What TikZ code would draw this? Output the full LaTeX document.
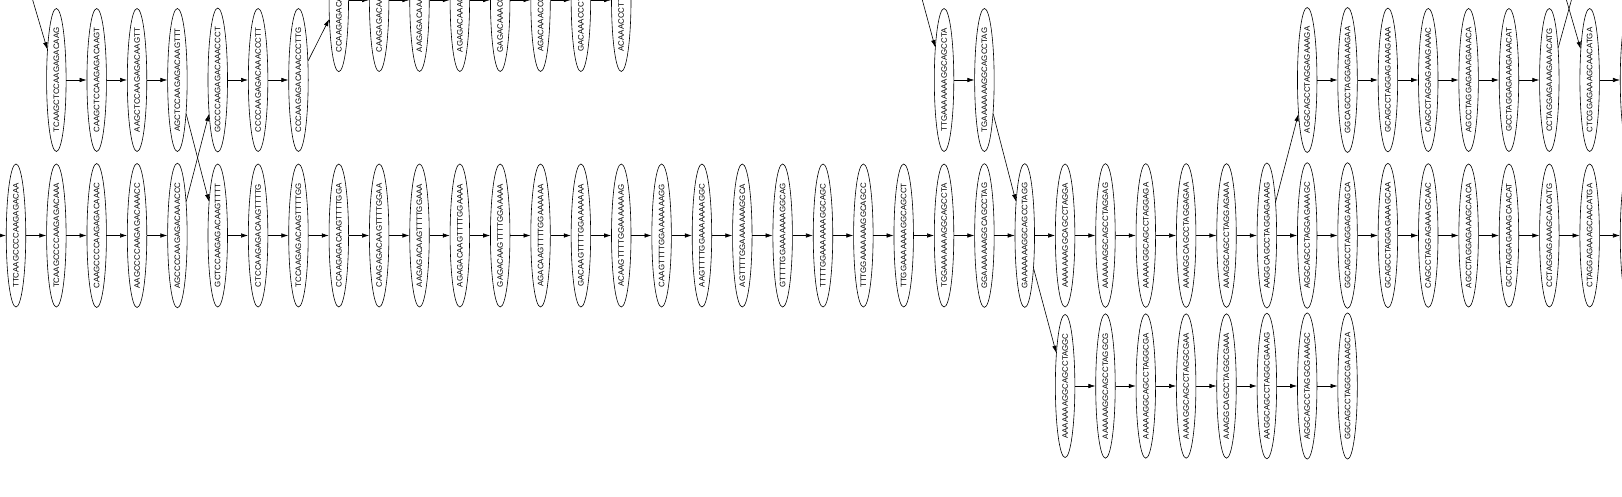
\documentclass[tikz,border=0pt]{standalone}
\usepackage{fontspec}
\setmainfont{Liberation Sans}
\usetikzlibrary{shapes.geometric,arrows.meta}

\begin{document}
\begin{tikzpicture}[x=1pt,y=-1pt,
    kmer/.style={draw,ellipse,rotate=90,line width=0.6pt,
        minimum width=143pt,minimum height=19.5pt,
        inner xsep=-2pt,inner ysep=0pt,
        font=\fontsize{7.9}{9}\selectfont},
    link/.style={line width=0.6pt,-{Latex[length=7pt,width=4.5pt]}}]
    \useasboundingbox (0,0) rectangle (1622,497);
    \clip (0,0) rectangle (1622,497);

    % middle row
    \foreach \s [count=\i from 0] in {
        TTCAAGCCCCAAGAGACAA,TCAAGCCCCAAGAGACAAA,CAAGCCCCAAGAGACAAAC,
        AAGCCCCAAGAGACAAACC,AGCCCCAAGAGACAAACCC,GCTCCAAGAGACAAGTTTT,
        CTCCAAGAGACAAGTTTTG,TCCAAGAGACAAGTTTTGG,CCAAGAGACAAGTTTTGGA,
        CAAGAGACAAGTTTTGGAA,AAGAGACAAGTTTTGGAAA,AGAGACAAGTTTTGGAAAA,
        GAGACAAGTTTTGGAAAAA,AGACAAGTTTTGGAAAAAA,GACAAGTTTTGGAAAAAAA,
        ACAAGTTTTGGAAAAAAAG,CAAGTTTTGGAAAAAAAGG,AAGTTTTGGAAAAAAAGGC,
        AGTTTTGGAAAAAAAGGCA,GTTTTGGAAAAAAAGGCAG,TTTTGGAAAAAAAGGCAGC,
        TTTGGAAAAAAAGGCAGCC,TTGGAAAAAAAGGCAGCCT,TGGAAAAAAAGGCAGCCTA,
        GGAAAAAAAGGCAGCCTAG,GAAAAAAAGGCAGCCTAGG,AAAAAAAGGCAGCCTAGGA,
        AAAAAAGGCAGCCTAGGAG,AAAAAGGCAGCCTAGGAGA,AAAAGGCAGCCTAGGAGAA,
        AAAGGCAGCCTAGGAGAAA,AAGGCAGCCTAGGAGAAAG,AGGCAGCCTAGGAGAAAGC,
        GGCAGCCTAGGAGAAAGCA,GCAGCCTAGGAGAAAGCAA,CAGCCTAGGAGAAAGCAAC,
        AGCCTAGGAGAAAGCAACA,GCCTAGGAGAAAGCAACAT,CCTAGGAGAAAGCAACATG,
        CTAGGAGAAAGCAACATGA}
        \node[kmer] (m\i) at ({16+40.35*\i},235.5) {\s};
    \node[kmer] (m40) at ({16+40.35*40},235.5) {};

    % upper row
    \foreach \i/\s in {
        1/TCAAGCTCCAAGAGACAAG,2/CAAGCTCCAAGAGACAAGT,3/AAGCTCCAAGAGACAAGTT,
        4/AGCTCCAAGAGACAAGTTT,5/GCCCCAAGAGACAAACCCT,6/CCCCAAGAGACAAACCCTT,
        7/CCCAAGAGACAAACCCTTG,23/TTGAAAAAAAGGCAGCCTA,24/TGAAAAAAAGGCAGCCTAG,
        32/AGGCAGCCTAGGAGAAAGA,33/GGCAGCCTAGGAGAAAGAA,34/GCAGCCTAGGAGAAAGAAA,
        35/CAGCCTAGGAGAAAGAAAC,36/AGCCTAGGAGAAAGAAACA,37/GCCTAGGAGAAAGAAACAT,
        38/CCTAGGAGAAAGAAACATG,39/CTCGGAGAAAGCAACATGA}
        \node[kmer] (t\i) at ({16+40.35*\i},80) {\s};
    \node[kmer] (t40) at ({16+40.35*40},80) {};

    % cut off row at the top
    \foreach \i/\s in {
        8/CCAAGAGACAAACCCTTGG,9/CAAGAGACAAACCCTTGGA,10/AAGAGACAAACCCTTGGAA,
        11/AGAGACAAACCCTTGGAAA,12/GAGACAAACCCTTGGAAAA,13/AGACAAACCCTTGGAAAAA,
        14/GACAAACCCTTGGAAAAAA,15/ACAAACCCTTGGAAAAAAA}
        \node[kmer] (c\i) at ({16+40.35*\i},0) {\s};

    % lower row
    \foreach \i/\s in {
        26/AAAAAAAGGCAGCCTAGGC,27/AAAAAAGGCAGCCTAGGCG,28/AAAAAGGCAGCCTAGGCGA,
        29/AAAAGGCAGCCTAGGCGAA,30/AAAGGCAGCCTAGGCGAAA,31/AAGGCAGCCTAGGCGAAAG,
        32/AGGCAGCCTAGGCGAAAGC,33/GGCAGCCTAGGCGAAAGCA}
        \node[kmer] (b\i) at ({16+40.35*\i},386) {\s};

    % ends outside the picture
    \coordinate (inL) at (-40,235.5);
    \coordinate (inTL) at (9,-80);
    \coordinate (inT) at (906,-60);
    \coordinate (inTR) at (1549,-60);
    \coordinate (outTR) at (1588,-60);

    % straight runs
    \foreach \a/\b in {0/1,1/2,2/3,3/4,5/6,6/7,7/8,8/9,9/10,10/11,11/12,12/13,
        13/14,14/15,15/16,16/17,17/18,18/19,19/20,20/21,21/22,22/23,23/24,
        24/25,25/26,26/27,27/28,28/29,29/30,30/31,31/32,32/33,33/34,34/35,
        35/36,36/37,37/38,38/39,39/40}
        \draw[link] (m\a) -- (m\b);
    \foreach \a/\b in {1/2,2/3,3/4,5/6,6/7,23/24,32/33,33/34,34/35,35/36,
        36/37,37/38,39/40}
        \draw[link] (t\a) -- (t\b);
    \foreach \a/\b in {8/9,9/10,10/11,11/12,12/13,13/14,14/15}
        \draw[link] (c\a) -- (c\b);
    \foreach \a/\b in {26/27,27/28,28/29,29/30,30/31,31/32,32/33}
        \draw[link] (b\a) -- (b\b);

    % branches between rows
    \draw[link] (t4) -- (m5);
    \draw[link] (m4) -- (t5);
    \draw[link] (t7) -- (c8);
    \draw[link] (t24) -- (m25);
    \draw[link] (m25) -- (b26);
    \draw[link] (m31) -- (t32);

    \draw[link] (inL) -- (m0);
    \draw[link] (inTL) -- (t1);
    \draw[link] (inT) -- (t23);
    \draw[link] (inTR) -- (t39);
    \draw[link] (t38) -- (outTR);
\end{tikzpicture}
\end{document}
